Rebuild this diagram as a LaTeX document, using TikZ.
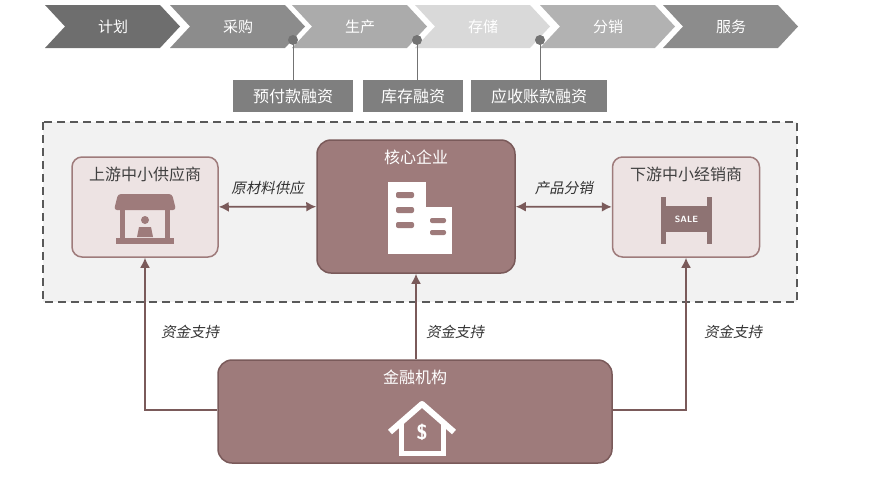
\documentclass[tikz,border=0pt]{standalone}
\usepackage{fontspec}
\setmainfont{Noto Sans CJK SC}
\newfontfamily\cjkit[FakeSlant=0.2]{Noto Sans CJK SC}
\usetikzlibrary{positioning}
\usetikzlibrary{arrows.meta}
\definecolor{rosebox}{HTML}{9E7B7B}
\definecolor{roselite}{HTML}{EDE3E3}
\definecolor{roseline}{HTML}{7A5A5A}
\definecolor{stepgray}{HTML}{7F7F7F}
\tikzset{
  chev/.style={fill=#1,draw=none},
  fin box/.style={fill=stepgray,text=white,minimum height=32pt,inner sep=0pt,font=\fontsize{16}{18}\selectfont},
  lite node/.style={draw=rosebox,line width=1.5pt,fill=roselite,rounded corners=10pt},
  dark node/.style={draw=roseline,line width=1.5pt,fill=rosebox,rounded corners=14pt},
  title/.style={font=\fontsize{16}{18}\selectfont,below=7pt},
  link/.style={-{Latex[length=10pt,width=10pt]},roseline,line width=1.8pt},
  both link/.style={{Latex[length=10pt,width=10pt]}-{Latex[length=10pt,width=10pt]},roseline,line width=1.8pt},
  flow label/.style={font=\cjkit\fontsize{14.5}{16}\selectfont,text=black!80}
}
\begin{document}
\begin{tikzpicture}[x=1pt,y=-1pt]
\useasboundingbox (0,0) rectangle (880,482);
% process chevrons
\foreach \x/\c/\t [count=\i] in {45/black!57/计划,170/black!45/采购,292/black!33/生产,415/black!15/存储,540/black!30/分销,663/black!45/服务}{
  \fill[\c] (\x,5) -- (\x+115,5) -- (\x+135,26.5) -- (\x+115,48) -- (\x,48) -- (\x+20,26.5) -- cycle;
  \node[text=white,font=\fontsize{15}{17}\selectfont] (s\i) at (\x+68,26.5) {\t};
}
% financing products
\node[fin box,minimum width=120pt] (pre) at (293,96) {预付款融资};
\node[fin box,minimum width=100pt] (inv) at (413,96) {库存融资};
\node[fin box,minimum width=136pt] (rec) at (539,96) {应收账款融资};
\foreach \n/\x in {pre/293,inv/417,rec/540}{
  \coordinate (d\n) at (\x,40);
  \draw[black!55,line width=1pt] (d\n) -- (\x,80);
  \fill[black!55] (d\n) circle (5pt);
}
% chain area
\draw[dashed,dash pattern=on 8pt off 5pt,black!65,line width=1.6pt,fill=black!5] (43,122) rectangle (797,302);
\node[lite node,minimum width=146pt,minimum height=100pt] (up) at (145,207) {};
\node[title,text=black!75] at (up.north) {上游中小供应商};
\node[dark node,minimum width=198pt,minimum height=133pt] (core) at (416,206.5) {};
\node[title,text=white] at (core.north) {核心企业};
\node[lite node,minimum width=147pt,minimum height=100pt] (down) at (686,207) {};
\node[title,text=black!75] at (down.north) {下游中小经销商};
\node[dark node,minimum width=394pt,minimum height=103pt] (bank) at (415,411.5) {};
\node[title,text=white] at (bank.north) {金融机构};
% icons
\begin{scope}[fill=rosebox]
  \fill[rounded corners=3pt] (118,194) -- (172,194) -- (176,210) -- (114,210) -- cycle;
  \fill (120,210) rectangle (125,244);
  \fill (165,210) rectangle (170,244);
  \fill (116,238) rectangle (174,244);
  \fill (145,220) circle (4pt);
  \fill (137,237) -- (139,227) -- (151,227) -- (153,237) -- cycle;
\end{scope}
\begin{scope}[fill=white]
  \fill (388,182) rectangle (426,254);
  \fill (426,207) rectangle (452,254);
  \fill[rosebox,rounded corners=2pt] (396,192) rectangle (414,198);
  \fill[rosebox,rounded corners=2pt] (396,207) rectangle (414,213);
  \fill[rosebox,rounded corners=2pt] (396,222) rectangle (414,228);
  \fill[rosebox,rounded corners=2pt] (430,218) rectangle (446,223);
  \fill[rosebox,rounded corners=2pt] (430,230) rectangle (446,235);
\end{scope}
\fill[roseline!85] (661,197) rectangle (666,244);
\fill[roseline!85] (707,197) rectangle (712,244);
\fill[roseline!85] (666,206) rectangle (707,232);
\node[text=white,font=\sffamily\bfseries\small] (sale) at (686.5,219) {SALE};
\draw[white,line width=6pt,line join=round] (390,432) -- (422,404) -- (454,432);
\draw[white,line width=5pt] (401,424) -- (401,453) -- (443,453) -- (443,424);
\node[text=white,font=\sffamily\bfseries\huge] (dollar) at (422,432) {\$};
% links
\draw[both link] (up) -- node[flow label,above=8pt] {原材料供应} (core);
\draw[both link] (core) -- node[flow label,above=8pt] {产品分销} (down);
\draw[link] (bank.west |- 0,410) -| (up.south);
\draw[link] (bank.north -| core.south) -- node[flow label,right=6pt,pos=0.32] {资金支持} (core.south);
\draw[link] (bank.east |- 0,410) -| (down.south);
\node[flow label] (fl1) at (190,332) {资金支持};
\node[flow label] (fl3) at (733,332) {资金支持};
\end{tikzpicture}
\end{document}
